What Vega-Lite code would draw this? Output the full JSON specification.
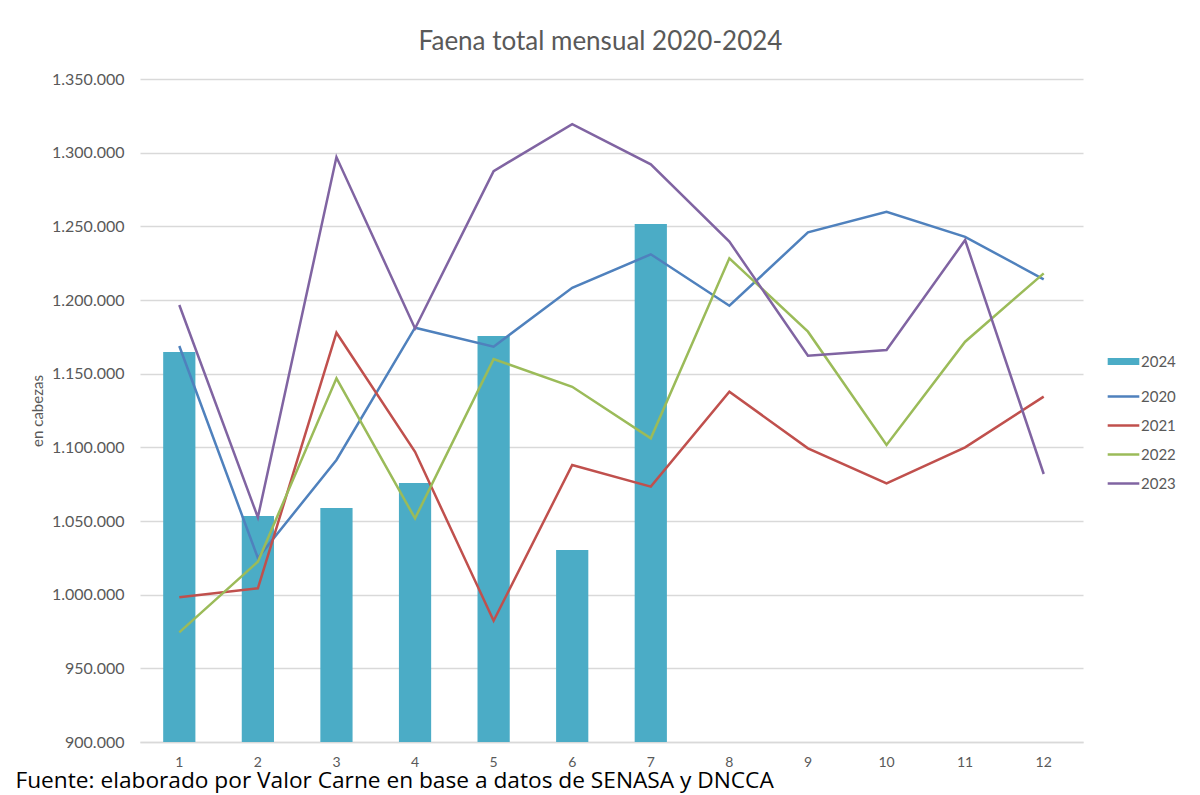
{
  "$schema": "https://vega.github.io/schema/vega-lite/v6.json",
  "autosize": {"type": "none"},
  "padding": {"left": 140, "top": 79, "right": 117, "bottom": 53},
  "width": 943,
  "height": 663,
  "background": "white",
  "title": {
    "text": "Faena total mensual 2020-2024",
    "anchor": "middle",
    "dx": -11,
    "offset": 16,
    "font": "Lato",
    "fontSize": 26,
    "fontWeight": "normal",
    "color": "#595959"
  },
  "data": {
    "values": [
      {"month": "1", "year": "2024", "value": 1164700},
      {"month": "2", "year": "2024", "value": 1053400},
      {"month": "3", "year": "2024", "value": 1058800},
      {"month": "4", "year": "2024", "value": 1075800},
      {"month": "5", "year": "2024", "value": 1175500},
      {"month": "6", "year": "2024", "value": 1030300},
      {"month": "7", "year": "2024", "value": 1251600},

      {"month": "1", "year": "2020", "value": 1168800},
      {"month": "2", "year": "2020", "value": 1024900},
      {"month": "3", "year": "2020", "value": 1091400},
      {"month": "4", "year": "2020", "value": 1181200},
      {"month": "5", "year": "2020", "value": 1168300},
      {"month": "6", "year": "2020", "value": 1208300},
      {"month": "7", "year": "2020", "value": 1231000},
      {"month": "8", "year": "2020", "value": 1196100},
      {"month": "9", "year": "2020", "value": 1245900},
      {"month": "10", "year": "2020", "value": 1259900},
      {"month": "11", "year": "2020", "value": 1242900},
      {"month": "12", "year": "2020", "value": 1214000},

      {"month": "1", "year": "2021", "value": 998200},
      {"month": "2", "year": "2021", "value": 1004300},
      {"month": "3", "year": "2021", "value": 1177800},
      {"month": "4", "year": "2021", "value": 1097000},
      {"month": "5", "year": "2021", "value": 982300},
      {"month": "6", "year": "2021", "value": 1088000},
      {"month": "7", "year": "2021", "value": 1073300},
      {"month": "8", "year": "2021", "value": 1137800},
      {"month": "9", "year": "2021", "value": 1099300},
      {"month": "10", "year": "2021", "value": 1075600},
      {"month": "11", "year": "2021", "value": 1100000},
      {"month": "12", "year": "2021", "value": 1134400},

      {"month": "1", "year": "2022", "value": 974400},
      {"month": "2", "year": "2022", "value": 1022400},
      {"month": "3", "year": "2022", "value": 1146800},
      {"month": "4", "year": "2022", "value": 1051800},
      {"month": "5", "year": "2022", "value": 1159900},
      {"month": "6", "year": "2022", "value": 1141100},
      {"month": "7", "year": "2022", "value": 1106100},
      {"month": "8", "year": "2022", "value": 1228300},
      {"month": "9", "year": "2022", "value": 1178500},
      {"month": "10", "year": "2022", "value": 1101600},
      {"month": "11", "year": "2022", "value": 1171700},
      {"month": "12", "year": "2022", "value": 1218100},

      {"month": "1", "year": "2023", "value": 1196600},
      {"month": "2", "year": "2023", "value": 1052500},
      {"month": "3", "year": "2023", "value": 1297000},
      {"month": "4", "year": "2023", "value": 1180700},
      {"month": "5", "year": "2023", "value": 1287500},
      {"month": "6", "year": "2023", "value": 1319400},
      {"month": "7", "year": "2023", "value": 1292100},
      {"month": "8", "year": "2023", "value": 1239600},
      {"month": "9", "year": "2023", "value": 1162200},
      {"month": "10", "year": "2023", "value": 1166000},
      {"month": "11", "year": "2023", "value": 1240700},
      {"month": "12", "year": "2023", "value": 1081900}
    ]
  },
  "encoding": {
    "x": {
      "field": "month",
      "type": "ordinal",
      "sort": ["1", "2", "3", "4", "5", "6", "7", "8", "9", "10", "11", "12"],
      "scale": {"paddingInner": 0.59, "paddingOuter": 0.295},
      "axis": {
        "title": "Fuente: elaborado por Valor Carne en base a datos de SENASA y DNCCA",
        "titleAnchor": "start",
        "titleAlign": "left",
        "titleX": -125,
        "titleY": 45,
        "titleBaseline": "alphabetic",
        "titleFont": "Open Sans",
        "titleFontSize": 22.7,
        "titleFontWeight": "normal",
        "titleColor": "#000000",
        "labelAngle": 0,
        "labelFont": "Lato",
        "labelFontSize": 14,
        "labelColor": "#595959",
        "labelPadding": 13,
        "domain": true,
        "domainColor": "#d9d9d9",
        "domainWidth": 1.5,
        "ticks": false,
        "tickSize": 0,
        "grid": false
      }
    },
    "y": {
      "field": "value",
      "type": "quantitative",
      "scale": {"domain": [900000, 1350000], "zero": false, "nice": false},
      "axis": {
        "title": "en cabezas",
        "titleFont": "Lato",
        "titleFontSize": 15,
        "titleFontWeight": "normal",
        "titleColor": "#595959",
        "titlePadding": 6,
        "values": [900000, 950000, 1000000, 1050000, 1100000, 1150000, 1200000, 1250000, 1300000, 1350000],
        "format": ",.0f",
        "labelFont": "Lato",
        "labelFontSize": 16,
        "labelColor": "#595959",
        "labelPadding": 16,
        "domain": false,
        "ticks": false,
        "tickSize": 0,
        "grid": true,
        "gridColor": "#d9d9d9",
        "gridWidth": 1.5
      }
    }
  },
  "layer": [
    {
      "transform": [{"filter": "datum.year === '2024'"}],
      "mark": {"type": "bar"},
      "encoding": {
        "y2": {"datum": 900000},
        "color": {
          "field": "year",
          "type": "nominal",
          "scale": {
            "domain": ["2024", "2020", "2021", "2022", "2023"],
            "range": ["#4BACC6", "#4F81BD", "#C0504D", "#9BBB59", "#8064A2"]
          },
          "legend": {
            "title": null,
            "orient": "none",
            "legendX": 976,
            "legendY": 275,
            "symbolType": "stroke",
            "symbolSize": 1000,
            "symbolStrokeWidth": 2.5,
            "labelFont": "Lato",
            "labelFontSize": 15,
            "labelColor": "#595959",
            "labelOffset": 10,
            "rowPadding": 13,
            "encode": {
              "symbols": {
                "update": {
                  "strokeWidth": {"signal": "datum.value === '2024' ? 7 : 2.5"}
                }
              }
            }
          }
        }
      }
    },
    {
      "transform": [{"filter": "datum.year !== '2024'"}],
      "mark": {"type": "line", "strokeWidth": 2.5},
      "encoding": {
        "color": {"field": "year", "type": "nominal"}
      }
    }
  ],
  "config": {
    "locale": {
      "number": {
        "decimal": ",",
        "thousands": ".",
        "grouping": [3],
        "currency": ["$", ""]
      }
    },
    "view": {"stroke": null}
  }
}
